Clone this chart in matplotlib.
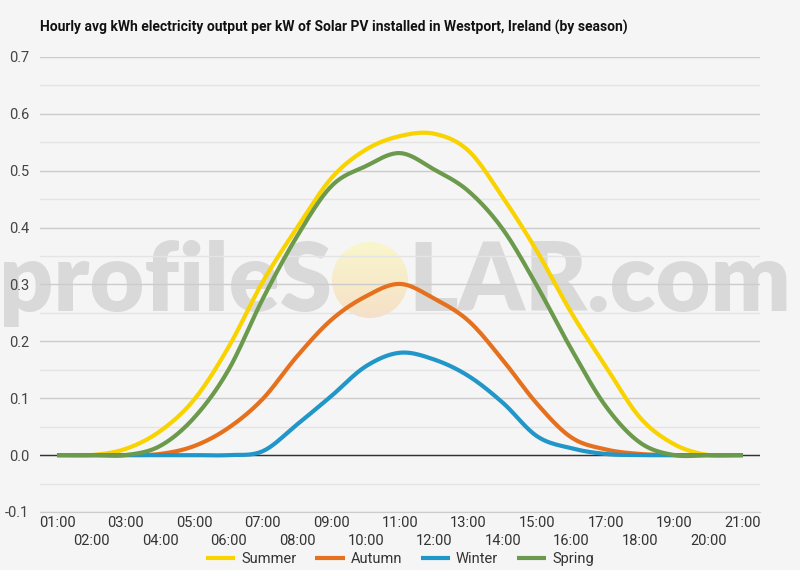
import numpy as np
import matplotlib
matplotlib.use("Agg")
import matplotlib.pyplot as plt
from matplotlib.patches import Circle

plt.rcParams['font.family'] = ['Roboto', 'DejaVu Sans']

hours = list(range(1, 22))
hour_labels = ["%02d:00" % h for h in hours]

summer = [0, 0, 0.011, 0.042, 0.098, 0.19, 0.305, 0.40, 0.487, 0.537, 0.561,
          0.565, 0.535, 0.453, 0.358, 0.25, 0.156, 0.066, 0.019, 0, 0]
autumn = [0, 0, 0, 0.002, 0.016, 0.048, 0.099, 0.174, 0.238, 0.279, 0.301,
          0.275, 0.236, 0.167, 0.09, 0.031, 0.01, 0.002, 0, 0, 0]
winter = [0, 0, 0, 0, 0, 0, 0.007, 0.054, 0.104, 0.156, 0.18,
          0.168, 0.139, 0.092, 0.033, 0.012, 0.002, 0, 0, 0, 0]
spring = [0, 0, 0, 0.016, 0.066, 0.15, 0.275, 0.385, 0.473, 0.508, 0.531,
          0.502, 0.464, 0.397, 0.297, 0.186, 0.086, 0.022, 0, 0, 0]

series = [("Summer", summer, "#f9d300"),
          ("Autumn", autumn, "#e5711e"),
          ("Winter", winter, "#2196c8"),
          ("Spring", spring, "#6b9a4c")]


# catmull-rom smoothing for drawing (like google's curveType: function)
def smooth(x, y, n=20):
    x = np.asarray(x, float)
    y = np.asarray(y, float)
    xp = np.concatenate([[2 * x[0] - x[1]], x, [2 * x[-1] - x[-2]]])
    yp = np.concatenate([[y[0]], y, [y[-1]]])
    xs, ys = [], []
    for i in range(1, len(xp) - 2):
        t = np.linspace(0, 1, n, endpoint=False)
        m1 = (yp[i + 1] - yp[i - 1]) / 2
        m2 = (yp[i + 2] - yp[i]) / 2
        h00 = 2 * t**3 - 3 * t**2 + 1
        h10 = t**3 - 2 * t**2 + t
        h01 = -2 * t**3 + 3 * t**2
        h11 = t**3 - t**2
        xs.append(xp[i] + t * (xp[i + 1] - xp[i]))
        ys.append(h00 * yp[i] + h10 * m1 + h01 * yp[i + 1] + h11 * m2)
    xs.append([x[-1]])
    ys.append([y[-1]])
    return np.concatenate(xs), np.concatenate(ys)


bg = "#f5f5f5"
fig = plt.figure(figsize=(8, 5.7), dpi=100, facecolor=bg)

# watermark layer (pixel coords)
wm = fig.add_axes([0, 0, 1, 1], zorder=-1)
wm.set_xlim(0, 800)
wm.set_ylim(570, 0)
wm.axis("off")
wm.text(332, 311, "profileS", ha="right", va="baseline", fontsize=68,
        fontweight="heavy", color="#d9d9d9", family="Lato")
wm.text(408, 311, "LAR.com", ha="left", va="baseline", fontsize=68,
        fontweight="heavy", color="#d9d9d9", family="Lato")
grad = np.linspace(0, 1, 100)[:, None] * np.ones((1, 100))
top = np.array([0.975, 0.965, 0.80])
bot = np.array([0.965, 0.88, 0.78])
img = top[None, None, :] * (1 - grad[:, :, None]) + bot[None, None, :] * grad[:, :, None]
im = wm.imshow(img, extent=(332, 408, 318, 242), zorder=1)
im.set_clip_path(Circle((370, 280), 38, transform=wm.transData))

ax = fig.add_axes([0.05, 0.1018, 0.9, 0.7982])
ax.set_facecolor("none")

for name, vals, col in series:
    xs, ys = smooth(hours, vals)
    ax.plot(xs, ys, color=col, lw=3, label=name, zorder=3,
            solid_capstyle="butt")

ax.set_xlim(0.5, 21.5)
ax.set_ylim(-0.1, 0.7)
ax.set_yticks(np.arange(-0.1, 0.71, 0.1))
ax.set_yticklabels(["%.1f" % v for v in np.arange(-0.1, 0.71, 0.1)])
ax.set_yticks(np.arange(-0.05, 0.7, 0.1), minor=True)
ax.grid(axis="y", which="major", color="#cccccc", lw=1)
ax.grid(axis="y", which="minor", color="#e4e4e4", lw=1)
ax.axhline(0, color="#333333", lw=1, zorder=2)
ax.set_axisbelow(True)

ax.set_xticks(hours[0::2])
ax.set_xticklabels(hour_labels[0::2])
ax.set_xticks(hours[1::2], minor=True)
ax.set_xticklabels(hour_labels[1::2], minor=True)
ax.tick_params(axis="x", which="major", length=0, pad=3, labelsize=10.5,
               labelcolor="#333333")
ax.tick_params(axis="x", which="minor", length=0, pad=16, labelsize=10.5,
               labelcolor="#333333")
ax.tick_params(axis="y", which="both", length=0, pad=8, labelsize=10.5,
               labelcolor="#444444")

for s in ["top", "right", "left"]:
    ax.spines[s].set_visible(False)
ax.spines["bottom"].set_color("#cccccc")

fig.text(0.05, 0.951, "Hourly avg kWh electricity output per kW of Solar PV installed in Westport, Ireland (by season)",
         fontsize=10, fontweight="bold", color="#111111", va="center")

fig.legend(loc="lower center", ncol=4, frameon=False, fontsize=10.5,
           bbox_to_anchor=(0.5, -0.016), handlelength=2.0, columnspacing=1.3,
           handletextpad=0.4, labelcolor="#333333")

fig.savefig("out.png", dpi=100, facecolor=bg)
